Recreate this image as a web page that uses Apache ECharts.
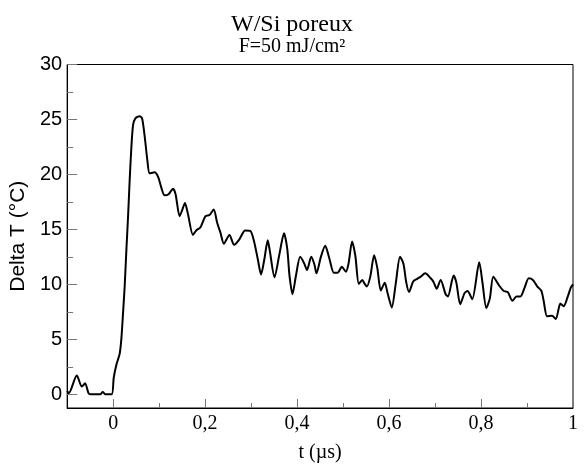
<!DOCTYPE html>
<html>
<head>
<meta charset="utf-8">
<script src="https://cdn.jsdelivr.net/npm/echarts@6/dist/echarts.min.js"></script>
<style>html,body{margin:0;padding:0;background:#fff}#c{width:584px;height:468px}</style>
</head>
<body>
<div id="c"></div>
<script>
// time (µs)
var tValues = [-0.1,-0.0963,-0.079,-0.068,-0.061,-0.0536,-0.049,-0.028,-0.0226,-0.0167,-0.003,0.0013,0.0072,0.0143,0.018,0.0217,0.0252,0.0289,0.0325,0.036,0.0397,0.0434,0.0484,0.0577,0.0629,0.0685,0.0744,0.0794,0.0902,0.0976,0.1048,0.1119,0.1206,0.1302,0.1358,0.1445,0.1497,0.1562,0.1627,0.1735,0.1807,0.19,0.2009,0.2095,0.2187,0.2262,0.2334,0.2408,0.2529,0.2631,0.2746,0.287,0.2985,0.3065,0.3145,0.3217,0.3289,0.3362,0.3401,0.351,0.3614,0.3716,0.3787,0.3835,0.39,0.3976,0.4067,0.4156,0.4215,0.4308,0.4377,0.4421,0.4518,0.4612,0.4699,0.48,0.4881,0.4974,0.5061,0.5119,0.5197,0.5267,0.5343,0.5419,0.5462,0.5516,0.5592,0.5675,0.5744,0.582,0.5907,0.5965,0.6059,0.6145,0.6239,0.6312,0.6373,0.6434,0.6525,0.6612,0.6688,0.6785,0.6905,0.697,0.7035,0.7122,0.723,0.728,0.7404,0.7464,0.7547,0.7642,0.7707,0.7809,0.7961,0.8033,0.8115,0.8191,0.8267,0.8401,0.8495,0.8582,0.8683,0.877,0.8857,0.8948,0.9037,0.9128,0.9226,0.9312,0.9362,0.9436,0.9544,0.9627,0.9725,0.9796,0.9887,0.9952,1.0];
// Delta T (°C)
var deltaT = [0.3,0.1,1.7,0.7,1.0,0.1,0,0,0.2,0,0,1.5,2.7,3.7,5.1,7.5,9.9,13.2,16.2,19.5,22.5,24.5,25.1,25.3,25.1,23.5,21.3,20.1,20.2,19.8,18.8,18.1,18.2,18.7,18.2,16.2,16.7,17.4,16.4,14.5,14.9,15.2,16.2,16.3,16.8,15.6,14.7,13.7,14.5,13.6,14.1,14.9,14.85,13.9,12.3,10.9,12.3,14.0,13.2,10.65,12.7,14.65,13.2,10.8,9.1,10.8,12.5,11.9,11.3,12.5,11.8,11.0,12.5,13.5,12.4,11.05,11.05,11.6,11.15,11.9,13.9,12.6,10.05,10.4,10.1,9.8,10.7,12.65,11.5,9.45,10.15,9.25,7.9,10.05,12.5,11.9,10.2,9.3,10.25,10.5,10.7,11.0,10.55,10.2,9.6,10.4,9.1,8.9,10.8,10.15,8.2,9.2,9.4,8.65,12.0,10.1,7.85,8.7,10.7,9.85,9.4,9.3,8.5,8.9,8.9,9.7,10.55,10.4,9.8,9.4,8.5,7.1,7.15,6.85,8.25,8.0,8.9,9.7,10.0];
var xMajorTicks = [0,0.2,0.4,0.6,0.8,1];
var xMinorTicks = [0.1,0.3,0.5,0.7,0.9];
var yMajorTicks = [0,5,10,15,20,25,30];
var yMinorTicks = [2.5,7.5,12.5,17.5,22.5,27.5];

var data = tValues.map(function(t,i){return [t, deltaT[i]];});
var chart = echarts.init(document.getElementById('c'));
var serif = 'Liberation Serif';
var sans = 'Liberation Sans';
var baseX = {
  type:'value', min:-0.1, max:1, gridIndex:0,
  splitLine:{show:false}
};
var baseY = {
  type:'value', min:-1.25, max:30, gridIndex:0,
  splitLine:{show:false}
};
chart.setOption({
  animation:false,
  backgroundColor:'#fff',
  title:[
    {text:'W/Si poreux', left:287, top:8, textAlign:'center',
     textStyle:{fontFamily:serif, fontWeight:'normal', fontSize:24, color:'#000'}},
    {text:'F=50 mJ/cm²', left:287, top:32, textAlign:'center',
     textStyle:{fontFamily:serif, fontWeight:'normal', fontSize:20, color:'#000'}}
  ],
  grid:{left:66, right:11, top:64.5, bottom:58, show:true, borderColor:'#000', borderWidth:1, backgroundColor:'transparent'},
  xAxis:[
    Object.assign({}, baseX, {
      position:'bottom',
      name:'t (µs)', nameLocation:'middle', nameGap:35,
      nameTextStyle:{fontFamily:serif, fontSize:20, color:'#000'},
      axisLine:{show:true, onZero:false, lineStyle:{color:'#000', width:1}},
      axisTick:{show:true, inside:true, length:9, customValues:xMajorTicks, lineStyle:{color:'#777', width:1}},
      axisLabel:{show:true, margin:6, customValues:xMajorTicks, fontFamily:serif, fontSize:20, color:'#000',
        formatter:function(v){return String(v).replace('.', ',');}}
    }),
    Object.assign({}, baseX, {
      position:'bottom',
      axisLine:{show:false, onZero:false},
      axisTick:{show:true, inside:true, length:5, customValues:xMinorTicks, lineStyle:{color:'#777', width:1}},
      axisLabel:{show:false}
    })
  ],
  yAxis:[
    Object.assign({}, baseY, {
      position:'left',
      name:'Delta T (°C)', nameLocation:'middle', nameGap:33, nameRotate:90,
      nameTextStyle:{fontFamily:sans, fontSize:21, color:'#000'},
      axisLine:{show:true, onZero:false, lineStyle:{color:'#000', width:1}},
      axisTick:{show:true, inside:true, length:10, customValues:yMajorTicks, lineStyle:{color:'#777', width:1}},
      axisLabel:{show:true, margin:5, customValues:yMajorTicks, fontFamily:sans, fontSize:20, color:'#000'}
    }),
    Object.assign({}, baseY, {
      position:'left',
      axisLine:{show:false, onZero:false},
      axisTick:{show:true, inside:true, length:6, customValues:yMinorTicks, lineStyle:{color:'#777', width:1}},
      axisLabel:{show:false}
    })
  ],
  series:[{
    type:'line', data:data, xAxisIndex:0, yAxisIndex:0,
    showSymbol:false, smooth:0.25, clip:true,
    lineStyle:{color:'#000', width:2}
  }]
});
</script>
</body>
</html>
